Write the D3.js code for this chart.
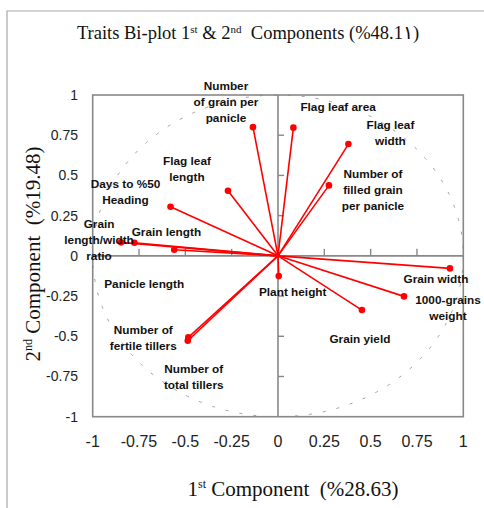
<!DOCTYPE html>
<html><head><meta charset="utf-8">
<script src="https://cdn.jsdelivr.net/npm/d3@7"></script>
<style>body{margin:0;background:#fff}svg{display:block}</style>
</head><body>
<svg id="c" width="484" height="508"></svg>
<script>
// ---- data ----
const traits = [
  "Number of grain per panicle", "Flag leaf area", "Flag leaf width",
  "Number of filled grain per panicle", "Flag leaf length", "Days to %50 Heading",
  "Grain length/width ratio", "Grain length", "Panicle length", "Plant height",
  "Grain width", "1000-grains weight", "Grain yield",
  "Number of fertile tillers", "Number of total tillers"
];
const pc1 = [-0.135, 0.083, 0.38, 0.275, -0.27, -0.58, -0.847, -0.775, -0.56, 0.004, 0.928, 0.68, 0.453, -0.484, -0.487];
const pc2 = [0.80, 0.797, 0.695, 0.438, 0.405, 0.305, 0.084, 0.081, 0.038, -0.126, -0.078, -0.252, -0.337, -0.507, -0.528];
const ticks = [-1, -0.75, -0.5, -0.25, 0, 0.25, 0.5, 0.75, 1];
const tickLabels = ["-1", "-0.75", "-0.5", "-0.25", "0", "0.25", "0.5", "0.75", "1"];

// ---- layout (label lines and offsets from point, px) ----
const labelLines = [
  ["Number", "of grain per", "panicle"], ["Flag leaf area"], ["Flag leaf", "width"],
  ["Number of", "filled grain", "per panicle"], ["Flag leaf", "length"], ["Days to %50", "Heading"],
  ["Grain", "length/width", "ratio"], ["Grain length"], ["Panicle length"], ["Plant height"],
  ["Grain width"], ["1000-grains", "weight"], ["Grain yield"],
  ["Number of", "fertile tillers"], ["Number of", "total tillers"]
];
const labelOff = [
  [-27,-37],[43,-17],[42,-15],[44,-7],[-41,-26],[-45,-19],
  [-22,-14],[32,-7],[-30,38],[14,20],[-14,15],[44,8],[-2,33],[-45,-3],[6,32]
];

const svg = d3.select("#c");
const x = d3.scaleLinear().domain([-1, 1]).range([92.7, 463.3]);
const y = d3.scaleLinear().domain([-1, 1]).range([416.7, 95]);

// outer frame
svg.append("path").attr("d", "M7,508 V11 H484").attr("fill", "none")
  .attr("stroke", "#a8a8a8").attr("stroke-width", 1.2);

// title
const serif = "'Liberation Serif','Times New Roman',serif";
const title = svg.append("text").attr("x", 248).attr("y", 39).attr("text-anchor", "middle")
  .attr("font-family", serif).attr("font-size", 18.5).attr("fill", "#111");
title.append("tspan").text("Traits Bi-plot 1");
title.append("tspan").attr("font-size", 11).attr("dy", -6).text("st");
title.append("tspan").attr("dy", 6).text(" & 2");
title.append("tspan").attr("font-size", 11).attr("dy", -6).text("nd");
title.append("tspan").attr("dy", 6).text("\u00a0 Components (%48.1\u06F1)");

// unit circle (dashed)
svg.append("ellipse").attr("cx", x(0)).attr("cy", y(0))
  .attr("rx", x(1) - x(0)).attr("ry", y(0) - y(1))
  .attr("fill", "none").attr("stroke", "#a0a0a0").attr("stroke-width", 1)
  .attr("stroke-dasharray", "3,11");

// plot box
svg.append("rect").attr("x", x(-1)).attr("y", y(1))
  .attr("width", x(1) - x(-1)).attr("height", y(-1) - y(1))
  .attr("fill", "none").attr("stroke", "#888").attr("stroke-width", 1.6);

// zero axes
svg.append("line").attr("x1", x(-1)).attr("x2", x(1)).attr("y1", y(0)).attr("y2", y(0))
  .attr("stroke", "#888").attr("stroke-width", 1.6);
svg.append("line").attr("x1", x(0)).attr("x2", x(0)).attr("y1", y(-1)).attr("y2", y(1))
  .attr("stroke", "#888").attr("stroke-width", 1.6);

// ticks
const inner = ticks.filter(t => t > -1 && t < 1 && t !== 0);
svg.selectAll(".xt").data(inner).enter().append("line")
  .attr("x1", d => x(d)).attr("x2", d => x(d)).attr("y1", y(0)).attr("y2", y(0) - 7)
  .attr("stroke", "#888").attr("stroke-width", 1.4);
svg.selectAll(".yt").data(inner).enter().append("line")
  .attr("y1", d => y(d)).attr("y2", d => y(d)).attr("x1", x(0)).attr("x2", x(0) + 6)
  .attr("stroke", "#888").attr("stroke-width", 1.4);

// tick labels
const sans = "'Liberation Sans',Arial,sans-serif";
svg.selectAll(".xl").data(ticks).enter().append("text")
  .attr("x", d => x(d)).attr("y", 446.7).attr("text-anchor", "middle")
  .attr("font-family", sans).attr("font-size", 16).attr("fill", "#222")
  .text((d, i) => tickLabels[i]);
svg.selectAll(".yl").data(ticks).enter().append("text")
  .attr("x", 78).attr("y", d => y(d) + 5).attr("text-anchor", "end")
  .attr("font-family", sans).attr("font-size", 14).attr("fill", "#222")
  .text((d, i) => tickLabels[i]);

// axis titles
const xt = svg.append("text").attr("x", 293).attr("y", 496).attr("text-anchor", "middle")
  .attr("font-family", serif).attr("font-size", 21).attr("fill", "#111");
xt.append("tspan").text("1");
xt.append("tspan").attr("font-size", 12).attr("dy", -8).text("st");
xt.append("tspan").attr("dy", 8).text(" Component\u00a0 (%28.63)");

const yt = svg.append("text").attr("transform", "translate(40,254) rotate(-90)")
  .attr("text-anchor", "middle")
  .attr("font-family", serif).attr("font-size", 21).attr("fill", "#111");
yt.append("tspan").text("2");
yt.append("tspan").attr("font-size", 12).attr("dy", -8).text("nd");
yt.append("tspan").attr("dy", 8).text(" Component\u00a0 (%19.48)");

// vectors
const idx = d3.range(traits.length);
svg.selectAll(".vec").data(idx).enter().append("line")
  .attr("x1", x(0)).attr("y1", y(0))
  .attr("x2", i => x(pc1[i])).attr("y2", i => y(pc2[i]))
  .attr("stroke", "#ff0000").attr("stroke-width", 1.6);
svg.selectAll(".pt").data(idx).enter().append("circle")
  .attr("cx", i => x(pc1[i])).attr("cy", i => y(pc2[i])).attr("r", 3.3)
  .attr("fill", "#ff0000");

// labels
idx.forEach(i => {
  const lx = x(pc1[i]) + labelOff[i][0], ly = y(pc2[i]) + labelOff[i][1];
  const anchor = i === 1 ? "start" : "middle";
  const t = svg.append("text").attr("text-anchor", anchor)
    .attr("font-family", sans).attr("font-weight", "bold").attr("font-size", 11.8)
    .attr("fill", "#111");
  labelLines[i].forEach((ln, k) => {
    t.append("tspan").attr("x", i === 1 ? lx - 36 : lx).attr("y", ly + k * 16).text(ln);
  });
});
</script>
</body></html>
